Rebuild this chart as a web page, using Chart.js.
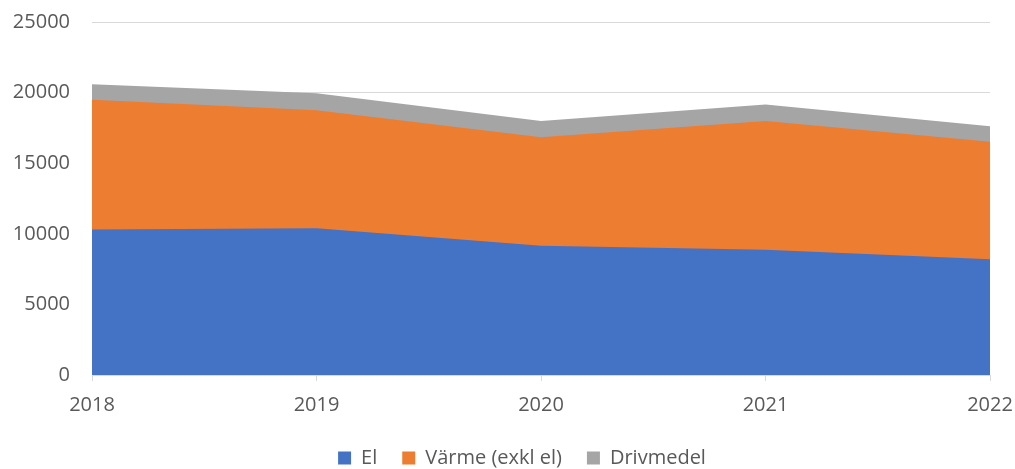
<!DOCTYPE html>
<html>
<head>
<meta charset="utf-8">
<script src="https://cdn.jsdelivr.net/npm/chart.js@4"></script>
<style>
  html, body { margin: 0; padding: 0; background: #fff; }
  #wrap { width: 1015px; height: 469px; }
</style>
</head>
<body>
<div id="wrap"><canvas id="chart" width="1015" height="469"></canvas></div>
<script>
// --- Data ---
const years = ['2018', '2019', '2020', '2021', '2022'];
const el = [10300, 10400, 9150, 8870, 8190];
const varme = [9200, 8350, 7680, 9110, 8330];
const drivmedel = [1100, 1200, 1150, 1185, 1090];
const yTicks = [0, 5000, 10000, 15000, 20000, 25000];

const textColor = '#595959';
const font = { family: '"Open Sans", sans-serif', size: 20 };

function area(label, data, color) {
    return {
        label: label,
        data: data,
        backgroundColor: color,
        borderColor: color,
        borderWidth: 0,
        fill: true,
        pointRadius: 0,
        tension: 0
    };
}

// nudge the legend row a bit right, it sits off-centre in the original
const legendShift = {
    id: 'legendShift',
    afterLayout(chart) {
        if (!chart.legend) return;
        chart.legend.left += 27;
        chart.legend.right += 27;
    }
};

new Chart(document.getElementById('chart'), {
    type: 'line',
    data: {
        labels: years,
        datasets: [
            area('El', el, '#4472C4'),
            area('Värme (exkl el)', varme, '#ED7D31'),
            area('Drivmedel', drivmedel, '#A5A5A5')
        ]
    },
    options: {
        responsive: false,
        animation: false,
        // negative bottom pushes the legend row down to where the original has it
        layout: { padding: { top: 22, right: 25, left: 0, bottom: -9 } },
        scales: {
            x: {
                offset: false,
                afterFit: s => { s.height = 48; s.paddingLeft = 0; s.paddingRight = 0; },
                grid: { drawOnChartArea: false, drawTicks: true, tickLength: 6, color: '#d9d9d9' },
                border: { color: '#d9d9d9' },
                ticks: { color: textColor, font: font, padding: 12, maxRotation: 0 }
            },
            y: {
                stacked: true,
                min: 0, max: 25000,
                afterFit: s => { s.width = 92; s.paddingTop = 0; s.paddingBottom = 0; },
                afterBuildTicks: s => { s.ticks = yTicks.map(v => ({ value: v })); },
                grid: { color: '#d9d9d9', drawTicks: false },
                border: { display: false },
                ticks: { color: textColor, font: font, padding: 22, callback: v => String(v) }
            }
        },
        plugins: {
            legend: {
                position: 'bottom',
                labels: { color: textColor, font: font, boxWidth: 13, boxHeight: 13, padding: 25 }
            },
            tooltip: { enabled: false }
        }
    },
    plugins: [legendShift]
});
</script>
</body>
</html>
